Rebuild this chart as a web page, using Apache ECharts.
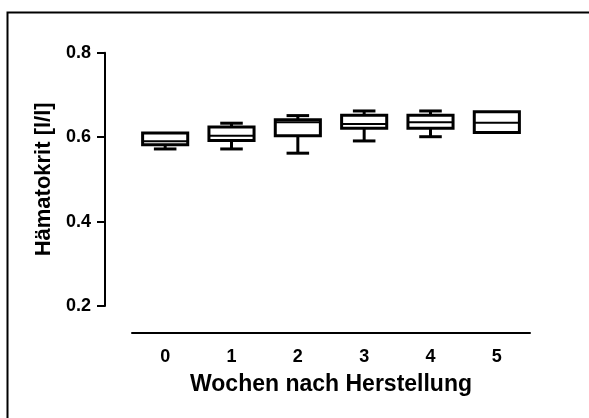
<!DOCTYPE html>
<html>
<head>
<meta charset="utf-8">
<script src="https://cdn.jsdelivr.net/npm/echarts@6/dist/echarts.min.js"></script>
<style>
  html, body { margin: 0; padding: 0; background: #fff; }
  #chart { width: 589px; height: 418px; }
</style>
</head>
<body>
<div id="chart"></div>
<script>
const weeks = ['0', '1', '2', '3', '4', '5']
// min, q1, median, q3, max per week
const minValues = [0.572, 0.572, 0.562, 0.591, 0.601, 0.611]
const q1Values = [0.582, 0.592, 0.603, 0.621, 0.621, 0.611]
const medianValues = [0.590, 0.603, 0.635, 0.631, 0.635, 0.634]
const q3Values = [0.610, 0.624, 0.641, 0.652, 0.652, 0.660]
const maxValues = [0.610, 0.633, 0.651, 0.662, 0.662, 0.660]
const yTicks = [0.2, 0.4, 0.6, 0.8]

const font = "'Liberation Sans', Arial, sans-serif"

const boxData = weeks.map((w, i) => [
  i, minValues[i], q1Values[i], medianValues[i], q3Values[i], maxValues[i],
])

const renderBox = (params, api) => {
  const i = api.value(0)
  const band = api.size([1, 0])[0]
  const half = band * 0.34
  const capHalf = half / 2
  const pMin = api.coord([i, api.value(1)])
  const pQ1 = api.coord([i, api.value(2)])
  const pMed = api.coord([i, api.value(3)])
  const pQ3 = api.coord([i, api.value(4)])
  const pMax = api.coord([i, api.value(5)])
  const cx = pMed[0]
  const line = (x1, y1, x2, y2, w) => ({
    type: 'line',
    shape: { x1, y1, x2, y2 },
    style: { stroke: '#000', lineWidth: w || 3 },
  })
  const children = []
  if (pMax[1] < pQ3[1] - 0.5) {
    children.push(line(cx, pMax[1], cx, pQ3[1]))
    children.push(line(cx - capHalf, pMax[1], cx + capHalf, pMax[1]))
  }
  if (pMin[1] > pQ1[1] + 0.5) {
    children.push(line(cx, pQ1[1], cx, pMin[1]))
    children.push(line(cx - capHalf, pMin[1], cx + capHalf, pMin[1]))
  }
  children.push({
    type: 'rect',
    shape: { x: cx - half, y: pQ3[1], width: half * 2, height: pQ1[1] - pQ3[1] },
    style: { stroke: '#000', lineWidth: 3, fill: '#fff' },
  })
  children.push(line(cx - half, pMed[1], cx + half, pMed[1], 2))
  return { type: 'group', children }
}

const chart = echarts.init(document.getElementById('chart'))
chart.setOption({
  animation: false,
  backgroundColor: '#fff',
  graphic: [
    {
      type: 'polyline',
      shape: { points: [[7.5, 418], [7.5, 12.5], [589, 12.5]] },
      style: { stroke: '#000', lineWidth: 2, fill: null },
    },
  ],
  grid: { left: 132, right: 59, top: 52.7, bottom: 112 },
  xAxis: {
    type: 'category',
    data: weeks,
    boundaryGap: true,
    name: 'Wochen nach Herstellung',
    nameLocation: 'middle',
    nameGap: 40,
    nameTextStyle: { fontFamily: font, fontWeight: 'bold', fontSize: 23, color: '#000' },
    offset: 27,
    axisLine: { lineStyle: { color: '#000', width: 2 } },
    axisTick: { alignWithLabel: true, length: 8, lineStyle: { color: '#000', width: 2 } },
    axisLabel: { fontFamily: font, fontWeight: 'bold', fontSize: 18, color: '#000', margin: 15 },
    splitLine: { show: false },
  },
  yAxis: {
    type: 'value',
    min: yTicks[0],
    max: yTicks[yTicks.length - 1],
    interval: 0.2,
    name: 'Hämatokrit [l/l]',
    nameLocation: 'middle',
    nameGap: 49,
    nameTextStyle: { fontFamily: font, fontWeight: 'bold', fontSize: 22, color: '#000' },
    offset: 27,
    axisLine: { show: true, lineStyle: { color: '#000', width: 2 } },
    axisTick: { show: true, length: 8, lineStyle: { color: '#000', width: 2 } },
    axisLabel: {
      fontFamily: font, fontWeight: 'bold', fontSize: 18, color: '#000', margin: 14,
      formatter: (v) => v.toFixed(1),
    },
    splitLine: { show: false },
  },
  series: [
    {
      type: 'custom',
      renderItem: renderBox,
      encode: { x: 0, y: [1, 2, 3, 4, 5] },
      data: boxData,
    },
  ],
})
</script>
</body>
</html>
